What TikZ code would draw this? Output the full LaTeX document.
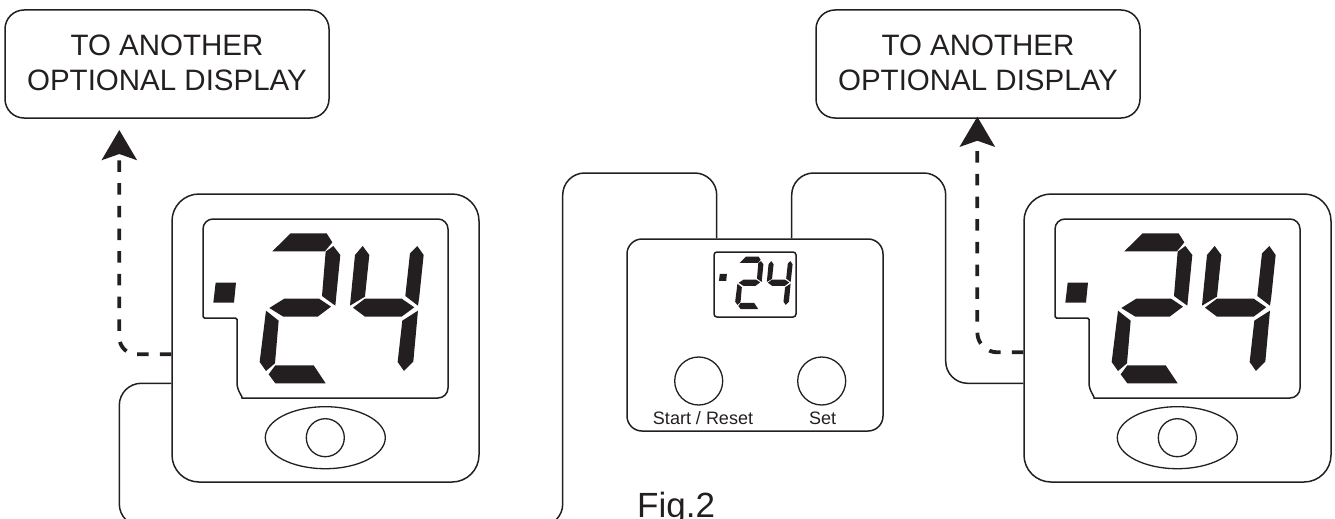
\documentclass[tikz,border=0pt]{standalone}
\usepackage{fontspec}
\setmainfont{Liberation Sans}
\usetikzlibrary{arrows.meta,shapes.geometric}
\definecolor{ink}{HTML}{231F20}
\tikzset{
    wire/.style={draw=ink,line width=1.5pt},
    dashwire/.style={draw=ink,line width=3.8pt,dash pattern=on 11.5pt off 11.2pt,
        -{Stealth[length=30pt,width=35pt,inset=6pt]}},
    optbox/.style={draw=ink,line width=1.5pt,rounded corners=19pt,inner sep=0pt,
        minimum width=324pt,minimum height=108pt,align=center,text=ink,text depth=3pt,
        font=\fontsize{29.5}{35}\selectfont},
    unitbox/.style={draw=ink,line width=1.5pt,rounded corners=27pt,inner sep=0pt,
        minimum width=307pt,minimum height=288pt},
    panelbox/.style={draw=ink,line width=1.5pt,rounded corners=15pt,inner sep=0pt,
        minimum width=256pt,minimum height=192pt},
    keybutton/.style={draw=ink,line width=1.3pt,circle,inner sep=0pt,minimum size=48pt},
    keylabel/.style={anchor=base,text=ink,inner sep=0pt,font=\fontsize{18}{18}\selectfont},
    lcdfigs/.pic={
        \fill [ink] (137,278) -- (198,278) -- (192,338) -- (130,338) -- cycle;
        \fill [ink] (362,130) -- (470,130) -- (487,157) -- (465,184) -- (307,184) -- cycle;
        \fill [ink] (490,168) -- (511,195) -- (496,347) -- (456,318) -- (467,185) -- cycle;
        \fill [ink] (343,326) -- (447,326) -- (483,350) -- (443,380) -- (340,380) -- (298,354) -- cycle;
        \fill [ink] (288,362) -- (326,392) -- (315,520) -- (288,543) -- (269,516) -- cycle;
        \fill [ink] (316,526) -- (431,526) -- (467,580) -- (316,580) -- (296,553) -- cycle;
        \fill [ink] (578,168) -- (598,195) -- (585,320) -- (540,347) -- (555,195) -- cycle;
        \fill [ink] (742,168) -- (761,195) -- (748,320) -- (744,347) -- (706,318) -- (720,190) -- cycle;
        \fill [ink] (585,326) -- (695,326) -- (733,352) -- (695,380) -- (585,380) -- (549,353) -- cycle;
        \fill [ink] (744,362) -- (730,515) -- (702,543) -- (683,516) -- (697,392) -- cycle;
    }
}
\begin{document}
\begin{tikzpicture}[x=1pt,y=-1pt]
    \clip (0,0) rectangle (1335,519);

    \foreach \dx/\unit in {0/unitA,852/unitB} {
        \begin{scope}[xshift=\dx pt]
            \node (\unit) [unitbox] at (325.5,338) {};
            \draw [wire,rounded corners=10pt] (203,300) -- (203,219) -- (448,219) -- (448,398)
                -- (252,398) [sharp corners] arc[start angle=90,end angle=180,radius=15]
                [rounded corners=1.5pt] -- (237,318) -- (203,318) -- cycle;
            \pic [scale=0.3333] at (170,190) {lcdfigs};
            \node (\unit eye) [draw=ink,line width=1.3pt,ellipse,inner sep=0pt,
                minimum width=120pt,minimum height=62pt] at (325.3,437.7) {};
            \node (\unit key) [keybutton,minimum size=38pt] at (325.3,437.7) {};
        \end{scope}
    }

    \node (panel) [panelbox] at (755,335) {};
    \draw [wire,rounded corners=3pt] (714,252) rectangle (796,317);
    \pic [scale=0.11667] at (703.8,241.5) {lcdfigs};
    \node (startkey) [keybutton] at (698.7,381) {};
    \node (setkey) [keybutton] at (821.7,381) {};
    \node (startlabel) [keylabel] at (703,424) {Start / Reset};
    \node (setlabel) [keylabel] at (822.7,424) {Set};

    \node (optA) [optbox] at (167,64) {TO ANOTHER\\OPTIONAL DISPLAY};
    \node (optB) [optbox] at (978,64) {TO ANOTHER\\OPTIONAL DISPLAY};
    \node (figlabel) [anchor=base west,inner sep=0pt,text=ink,
        font=\fontsize{35}{35}\selectfont] at (637,517) {Fig.2};

    \coordinate (tipA) at (119.3,130);
    \coordinate (tipB) at (977.3,116.7);
    \coordinate (cornerBL) at (119.3,526);
    \coordinate (cornerBR) at (562.7,526);
    \coordinate (cornerTL) at (562.7,173);
    \coordinate (cornerTR) at (716.7,173);
    \coordinate (cornerUL) at (791.7,173);
    \coordinate (cornerUR) at (945.7,173);
    \coordinate (cornerLR) at (945.7,383.3);

    \draw [wire,rounded corners=22pt] ([yshift=-45.3pt]unitA.west) -| (cornerBL) -- (cornerBR)
        -- (cornerTL) -- (cornerTR) -- ([xshift=-38.3pt]panel.north);
    \draw [wire,rounded corners=22pt] ([xshift=36.7pt]panel.north) -- (cornerUL) -- (cornerUR)
        -- (cornerLR) -- ([yshift=-45.3pt]unitB.west);
    \draw [dashwire,rounded corners=17pt] ([yshift=-16.3pt]unitA.west) -| (tipA);
    \draw [dashwire,rounded corners=20pt] ([yshift=-14.3pt]unitB.west) -| (tipB);
\end{tikzpicture}
\end{document}
